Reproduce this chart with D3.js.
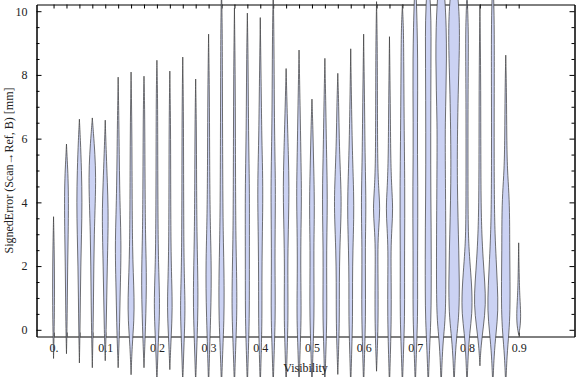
<!DOCTYPE html>
<html>
<head>
<meta charset="utf-8">
<script src="https://cdn.jsdelivr.net/npm/d3@7"></script>
<style>
  body { margin: 0; background: #fff; }
  text { font-family: "Liberation Serif", "DejaVu Serif", serif; }
</style>
</head>
<body>
<script>
// violin positions (Visibility)
const visibility = [0, 0.025, 0.05, 0.075, 0.1, 0.125, 0.15, 0.175, 0.2, 0.225, 0.25, 0.275,
  0.3, 0.325, 0.35, 0.375, 0.4, 0.425, 0.45, 0.475, 0.5, 0.525, 0.55, 0.575,
  0.6, 0.625, 0.65, 0.675, 0.7, 0.725, 0.75, 0.775, 0.8, 0.825, 0.85, 0.875, 0.9];

// density profile of each violin: [signed error (mm), density]
const profiles = [
  [[-0.9,0],[-0.3,0.8],[0.5,1.6],[1.5,1.8],[2.5,1.3],[3.55,0]],
  [[-0.75,0],[0,1],[1,1.6],[2,2.2],[3,3.2],[4,3.8],[4.8,3],[5.3,1.5],[5.83,0]],
  [[-1.04,0],[0,1.2],[1,1.8],[2,2.6],[3,4],[4,5],[5,4],[6,1.8],[6.61,0]],
  [[-1.19,0],[0,1.5],[1,2.2],[2,2.8],[3,3.6],[4,5.5],[4.8,6.5],[5.5,5],[6.2,2],[6.65,0]],
  [[-0.97,0],[0,1.8],[1,2.8],[2,3.8],[3,5.2],[3.8,5.5],[4.6,4],[5.5,2],[6.58,0]],
  [[-1.19,0],[0,2.5],[1,3.5],[2,5],[2.8,5.3],[3.6,4],[4.5,2.8],[5.5,2],[6.5,1.4],[7.93,0]],
  [[-1.41,0],[-0.5,2],[0.3,5.5],[1,5.8],[1.8,4],[2.6,2.8],[3.5,2.2],[5,1.8],[6.5,1.4],[8.09,0]],
  [[-1.19,0],[-0.3,2],[0.5,3.5],[1.4,4.6],[2.2,4],[3,2.8],[4,2.2],[5.5,1.7],[7,1.3],[7.96,0]],
  [[-1.7,0],[-0.6,2],[0.3,4.5],[1,5],[1.8,3.5],[2.6,2.4],[4,1.8],[6,1.5],[7.5,1.2],[8.46,0]],
  [[-1.25,0],[-0.4,2],[0.4,4.2],[1,4.4],[1.8,3],[2.8,2],[4.5,1.6],[6.5,1.4],[8.12,0]],
  [[-1.7,0],[-0.6,2],[0.3,4],[0.9,4.2],[1.6,3],[2.6,2],[4.5,1.6],[7,1.3],[8.56,0]],
  [[-1.7,0],[-0.6,2],[0.3,3.8],[1.1,4.4],[2,3.6],[3,2.4],[4.5,1.7],[6.5,1.3],[7.87,0]],
  [[-1.8,0],[-0.6,2],[0.4,3.8],[1.3,5],[2.2,4.8],[3,3.6],[4,2.5],[5.5,1.9],[7.5,1.5],[9.28,0]],
  [[-1.8,0],[-0.6,2.4],[0.3,4.6],[1.2,5],[2,4.4],[3,3.2],[4,2.5],[6,2],[8,1.6],[9.5,1.4],[10.8,0]],
  [[-1.8,0],[-0.6,2.2],[0.3,4.2],[1,4.6],[1.8,4],[2.8,2.8],[4,2.2],[6,1.8],[8,1.5],[10.1,0]],
  [[-1.8,0],[-0.6,2],[0.3,3.6],[1.5,3.8],[3,3.8],[4.3,4],[5.5,2.8],[7,1.8],[8.5,1.4],[9.94,0]],
  [[-1.8,0],[-0.6,2],[0.3,3.2],[1.5,3],[2.8,3.6],[4,4.8],[5,4.4],[6,2.8],[7.5,1.8],[9.8,0]],
  [[-1.8,0],[-0.6,2],[0.3,3.8],[1.2,3.8],[2.2,3.2],[3.5,3.8],[4.5,4.2],[5.5,3.2],[7,2],[9,1.6],[10.8,0]],
  [[-1.8,0],[-0.6,2],[0.3,3.6],[1.2,3.4],[2.2,3],[3.5,4.6],[4.5,5.5],[5.5,4.2],[6.5,2.5],[8.2,0]],
  [[-1.8,0],[-0.6,2],[0.3,4],[1.2,3.6],[2.3,3],[3.5,4],[4.4,4.6],[5.5,3.4],[7,2],[8.78,0]],
  [[-1.8,0],[-0.6,2],[0.4,4],[1.4,3.8],[2.5,3.4],[3.5,4.4],[4.3,4.4],[5.3,3],[6.3,1.8],[7.24,0]],
  [[-1.8,0],[-0.6,2],[0.4,3.8],[1.4,3.4],[2.5,3.2],[3.6,4.4],[4.6,4.4],[5.6,3],[7,1.8],[8.52,0]],
  [[-1.4,0],[-0.5,1.8],[0.4,3],[1.5,2.8],[2.5,3.6],[3.5,6],[4.2,6.4],[5,4.6],[6,2.6],[7,1.8],[8.05,0]],
  [[-1.8,0],[-0.6,2],[0.4,3.6],[1.5,3.2],[2.5,4],[3.5,5.8],[4.3,5.6],[5.3,3.6],[6.5,2],[8.82,0]],
  [[-1.8,0],[-0.6,2],[0.4,3.6],[1.5,3.4],[2.6,3],[3.6,4.2],[4.4,4],[5.5,2.6],[7,1.8],[9.28,0]],
  [[-1.3,0],[-0.5,1.8],[0.4,3],[1.5,2.8],[2.6,2.2],[3.2,4],[3.8,6.5],[4.4,4],[5.2,2],[7,1.6],[9,1.4],[10.3,0]],
  [[-1.8,0],[-0.6,2],[0.4,3.4],[1.5,3.2],[2.5,2.6],[3.2,4.4],[3.8,6.5],[4.5,4],[5.4,2.2],[7,1.6],[9.2,0]],
  [[-1.8,0],[-0.6,2.2],[0.4,4.2],[1.5,4],[2.5,4],[3.5,4.4],[4.5,4.4],[5.5,3.8],[7,3],[8.5,2.5],[9.5,2],[10.2,0]],
  [[-1.8,0],[-0.6,2.2],[0.4,4.4],[1.5,4.2],[2.5,4.2],[3.5,4.6],[4.5,4.6],[5.5,4],[6.5,4],[7.5,4.4],[8.5,4.4],[9.5,3.4],[10.4,2],[11,0]],
  [[-1.8,0],[-0.6,2.4],[0.3,5],[1.2,5.6],[2.2,5.6],[3.2,5.4],[4.2,4.8],[5.2,4.6],[6.2,4.6],[7.2,4.8],[8.2,5],[9.2,5.4],[10.2,4.6],[11.2,0]],
  [[-1.8,0],[-0.8,2],[-0.2,4.5],[0.4,8],[1.5,8.8],[3,8.6],[4.5,8],[5.6,7.6],[6.5,7.6],[7.5,9],[8.5,10],[9.5,9.6],[10.4,7],[11.2,3],[11.8,0]],
  [[-1.8,0],[-0.8,2],[-0.1,5.5],[0.5,9.3],[1.5,10],[2.5,8.7],[3.5,7.3],[4.6,6],[5.6,6],[6.5,6.6],[7.7,8],[8.8,10],[9.7,10],[10.3,8],[11,4],[11.6,0]],
  [[-1.8,0],[-0.8,2],[-0.1,5],[0.5,9.5],[1.2,9.5],[2,6],[2.6,3.5],[3.3,2],[5,1.8],[7,1.8],[8.5,2.4],[9.5,2.6],[10.6,0]],
  [[-1.13,0],[-0.5,2],[0.1,6.5],[0.8,11],[1.5,9],[2.2,6],[3,3.5],[4,2],[6,1.6],[8,1.5],[10.2,0]],
  [[-1.8,0],[-0.8,2.2],[-0.1,6],[0.6,10],[1.4,8.5],[2.2,6.2],[3,4],[4,2.8],[5.5,2.4],[7.5,2.6],[9,2.8],[10.2,2.2],[11,0]],
  [[-1.8,0],[-0.8,2.2],[-0.1,6],[0.6,8],[1.5,8],[2.5,7.3],[3.5,7.3],[4.3,6],[5,3],[6,1.8],[7.5,1.4],[8.62,0]],
  [[-0.15,0],[0.1,3],[0.5,4],[1,2.2],[1.6,1],[2.73,0]]
];

const xTickValues = [0, 0.1, 0.2, 0.3, 0.4, 0.5, 0.6, 0.7, 0.8, 0.9];
const xTickLabels = ["0.", "0.1", "0.2", "0.3", "0.4", "0.5", "0.6", "0.7", "0.8", "0.9"];
const yTickValues = [0, 2, 4, 6, 8, 10];

const width = 576, height = 377;
const svg = d3.select("body").append("svg")
  .attr("width", width)
  .attr("height", height);

const x = d3.scaleLinear().domain([-0.033, 1.008]).range([36.5, 574.5]);
const y = d3.scaleLinear().domain([-0.21, 10.21]).range([336.5, 4.5]);
const w = d3.scaleLinear().domain([0, 12]).range([0, x(0.025) - x(0)]);

const yMinor = d3.range(0, 10.01, 0.5).filter(v => v % 2 !== 0);

// frame with ticks
function styleAxis(g) {
  g.selectAll(".domain").attr("stroke", "#000");
  g.selectAll(".tick line").attr("stroke", "#000");
}

svg.append("g")
  .attr("transform", `translate(0,${y.range()[0]})`)
  .call(d3.axisBottom(x).tickValues(visibility).tickSize(-4).tickSizeOuter(0).tickFormat(""))
  .call(styleAxis);

svg.append("g")
  .attr("transform", `translate(0,${y.range()[1]})`)
  .call(d3.axisTop(x).tickValues(visibility).tickSize(-4).tickSizeOuter(0).tickFormat(""))
  .call(styleAxis);

svg.append("g")
  .attr("transform", `translate(${x.range()[0]},0)`)
  .call(d3.axisLeft(y).tickValues(yMinor).tickSize(-3).tickSizeOuter(0).tickFormat(""))
  .call(styleAxis);

svg.append("g")
  .attr("transform", `translate(${x.range()[0]},0)`)
  .call(d3.axisLeft(y).tickValues(yTickValues).tickSize(-5).tickSizeOuter(0).tickPadding(9))
  .call(styleAxis)
  .call(g => g.selectAll("text").attr("font-size", "12px").attr("fill", "#222")
    .attr("font-family", "Liberation Serif"));

svg.append("g")
  .attr("transform", `translate(${x.range()[1]},0)`)
  .call(d3.axisRight(y).tickValues(yMinor).tickSize(-3).tickSizeOuter(0).tickFormat(""))
  .call(styleAxis);

svg.append("g")
  .attr("transform", `translate(${x.range()[1]},0)`)
  .call(d3.axisRight(y).tickValues(yTickValues).tickSize(-5).tickSizeOuter(0).tickFormat(""))
  .call(styleAxis);

// x tick labels
svg.append("g")
  .attr("transform", `translate(0,${y.range()[0]})`)
  .call(d3.axisBottom(x).tickValues(xTickValues).tickSize(0).tickPadding(7)
    .tickFormat((d, i) => xTickLabels[i]))
  .call(g => g.select(".domain").remove())
  .call(g => g.selectAll("text").attr("font-size", "12px").attr("fill", "#222")
    .attr("font-family", "Liberation Serif"));

// violins
visibility.forEach((v, i) => {
  const cx = x(v);
  const area = d3.area()
    .curve(d3.curveBasis)
    .y(d => y(d[0]))
    .x0(d => cx - w(d[1]) / 2)
    .x1(d => cx + w(d[1]) / 2);
  svg.append("path")
    .datum(profiles[i])
    .attr("d", area)
    .attr("fill", "#cbd2f3")
    .attr("stroke", "#3c3c3c")
    .attr("stroke-opacity", 0.8)
    .attr("stroke-width", 0.9);
});

// axis titles
svg.append("text")
  .attr("x", (x.range()[0] + x.range()[1]) / 2)
  .attr("y", 372)
  .attr("text-anchor", "middle")
  .attr("font-size", "12px")
  .attr("fill", "#222")
  .text("Visibility");

svg.append("text")
  .attr("transform", `translate(13,${(y.range()[0] + y.range()[1]) / 2}) rotate(-90)`)
  .attr("text-anchor", "middle")
  .attr("font-size", "12px")
  .attr("fill", "#222")
  .text("SignedError (Scan\u2192Ref, B) [mm]");
</script>
</body>
</html>
